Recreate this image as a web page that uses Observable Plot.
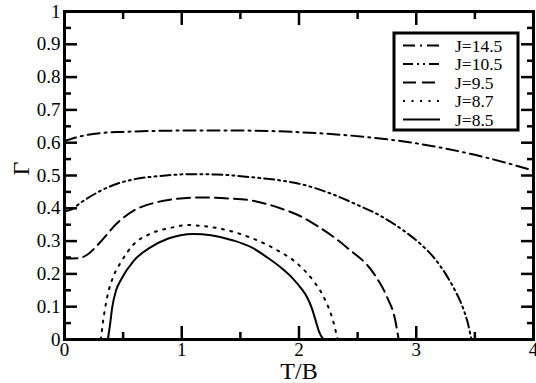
<!DOCTYPE html>
<html>
<head>
<meta charset="utf-8">
<script src="https://cdn.jsdelivr.net/npm/d3@7"></script>
<script src="https://cdn.jsdelivr.net/npm/@observablehq/plot@0.6"></script>
<style>
  html, body { margin: 0; padding: 0; background: #fff; }
  #wrap { position: relative; width: 536px; height: 383px; }
</style>
</head>
<body>
<div id="wrap"></div>
<script>
// ---- data ----
const seriesNames = ["J=14.5", "J=10.5", "J=9.5", "J=8.7", "J=8.5"];

const t145 = [0, 0.1, 0.2, 0.3, 0.5, 0.8, 1.0, 1.5, 2.0, 2.4, 3.0, 3.5, 4.0];
const g145 = [0.605, 0.616, 0.624, 0.629, 0.633, 0.636, 0.637, 0.637, 0.632, 0.623, 0.598, 0.563, 0.515];

const t105 = [0, 0.05, 0.15, 0.3, 0.45, 0.6, 0.8, 1.07, 1.3, 1.59, 1.84, 2.0, 2.27, 2.5, 2.69, 2.9, 3.04, 3.15, 3.25, 3.33, 3.4, 3.44, 3.47];
const g105 = [0.39, 0.395, 0.42, 0.452, 0.475, 0.489, 0.498, 0.504, 0.503, 0.495, 0.485, 0.475, 0.445, 0.41, 0.378, 0.33, 0.29, 0.25, 0.2, 0.15, 0.095, 0.05, 0];

const t95 = [0, 0.12, 0.2, 0.3, 0.45, 0.59, 0.75, 0.9, 1.16, 1.4, 1.59, 1.84, 2.0, 2.12, 2.41, 2.64, 2.75, 2.82, 2.85];
const g95 = [0.247, 0.248, 0.26, 0.295, 0.355, 0.393, 0.415, 0.426, 0.433, 0.43, 0.424, 0.4, 0.378, 0.354, 0.28, 0.2, 0.13, 0.06, 0];

const t87 = [0.31, 0.33, 0.364, 0.42, 0.48, 0.59, 0.73, 0.9, 1.05, 1.15, 1.3, 1.59, 1.8, 1.99, 2.12, 2.21, 2.29, 2.33];
const g87 = [0, 0.058, 0.129, 0.195, 0.235, 0.29, 0.322, 0.34, 0.349, 0.347, 0.34, 0.31, 0.275, 0.23, 0.18, 0.13, 0.058, 0];

const t85 = [0.37, 0.39, 0.407, 0.44, 0.478, 0.59, 0.73, 0.88, 1.1, 1.25, 1.44, 1.6, 1.73, 1.85, 1.95, 2.02, 2.07, 2.11, 2.14, 2.17, 2.2, 2.22];
const g85 = [0, 0.05, 0.098, 0.15, 0.18, 0.24, 0.28, 0.307, 0.322, 0.318, 0.302, 0.28, 0.25, 0.218, 0.185, 0.155, 0.128, 0.095, 0.06, 0.025, 0.005, 0];

const xTickLabels = [0, 1, 2, 3, 4];
const xMinorTicks = [0.5, 1.5, 2.5, 3.5];
const yTickLabels = [0, 0.1, 0.2, 0.3, 0.4, 0.5, 0.6, 0.7, 0.8, 0.9, 1];
const yMinorTicks = [0.05, 0.15, 0.25, 0.35, 0.45, 0.55, 0.65, 0.75, 0.85, 0.95];

// ---- build table ----
const seriesT = [t145, t105, t95, t87, t85];
const seriesG = [g145, g105, g95, g87, g85];
const rows = [];
seriesNames.forEach((name, i) => {
  seriesT[i].forEach((t, j) => rows.push({series: name, T: t, G: seriesG[i][j]}));
});

// ---- styles ----
const dash = {
  "J=14.5": "12,5,2,5",
  "J=10.5": "10,4,2,4,2,4",
  "J=9.5": "13,6",
  "J=8.7": "2,6.5",
  "J=8.5": null
};

const serif = "Liberation Serif, Times New Roman, DejaVu Serif, serif";
const tickW = 2.5;

const lineMarks = seriesNames.map(name =>
  Plot.line(rows.filter(d => d.series === name), {
    x: "T", y: "G", stroke: "black", strokeWidth: 2,
    strokeDasharray: dash[name] ?? undefined,
    curve: "monotone-x"
  })
);

const chart = Plot.plot({
  width: 536,
  height: 383,
  marginLeft: 64,
  marginRight: 3,
  marginTop: 11,
  marginBottom: 44,
  x: {domain: [0, 4]},
  y: {domain: [0, 1]},
  style: {fontFamily: serif, fontSize: "19px", color: "black", background: "white", overflow: "visible"},
  marks: [
    ...lineMarks,
    // major ticks (inward), all four sides
    Plot.axisX(xTickLabels, {anchor: "bottom", tickSize: -13, strokeWidth: tickW, fill: "none", label: null}),
    Plot.axisX(xTickLabels, {anchor: "top", tickSize: -13, strokeWidth: tickW, fill: "none", label: null}),
    Plot.axisY(yTickLabels, {anchor: "left", tickSize: -13, strokeWidth: tickW, fill: "none", label: null}),
    Plot.axisY(yTickLabels, {anchor: "right", tickSize: -13, strokeWidth: tickW, fill: "none", label: null}),
    // minor ticks
    Plot.axisX(xMinorTicks, {anchor: "bottom", tickSize: -7, strokeWidth: tickW, fill: "none", label: null}),
    Plot.axisX(xMinorTicks, {anchor: "top", tickSize: -7, strokeWidth: tickW, fill: "none", label: null}),
    Plot.axisY(yMinorTicks, {anchor: "left", tickSize: -7, strokeWidth: tickW, fill: "none", label: null}),
    Plot.axisY(yMinorTicks, {anchor: "right", tickSize: -7, strokeWidth: tickW, fill: "none", label: null}),
    // tick labels
    Plot.axisX(xTickLabels, {anchor: "bottom", tickSize: 0, tickPadding: 3, label: null, tickFormat: d => String(d), fontSize: 19}),
    Plot.axisY(yTickLabels, {anchor: "left", tickSize: 0, tickPadding: 4, label: null, tickFormat: d => String(d), fontSize: 19}),
    // axis titles
    Plot.text(["T/B"], {frameAnchor: "bottom", dy: 32, fontSize: 24, lineAnchor: "middle"}),
    Plot.text(["Γ"], {frameAnchor: "left", dx: -43, rotate: -90, fontSize: 24, lineAnchor: "middle"}),
    Plot.frame({stroke: "black", strokeWidth: 3})
  ]
});

const wrap = document.getElementById("wrap");
wrap.appendChild(chart);

// ---- legend overlay ----
const lg = d3.select(wrap).append("svg")
  .attr("width", 536).attr("height", 383)
  .style("position", "absolute").style("left", "0px").style("top", "0px")
  .style("pointer-events", "none");

const box = {x: 394, y: 33, w: 124, h: 97};
lg.append("rect").attr("x", box.x).attr("y", box.y).attr("width", box.w).attr("height", box.h)
  .attr("fill", "white").attr("stroke", "black").attr("stroke-width", 3);

const rowY = i => box.y + 12.5 + i * 18.5;
seriesNames.forEach((name, i) => {
  lg.append("line")
    .attr("x1", 403).attr("x2", 440).attr("y1", rowY(i)).attr("y2", rowY(i))
    .attr("stroke", "black").attr("stroke-width", 2)
    .attr("stroke-dasharray", dash[name]);
  lg.append("text")
    .attr("x", 455).attr("y", rowY(i)).attr("dy", "0.35em")
    .attr("font-family", serif).attr("font-size", 17.5)
    .text(name);
});
</script>
</body>
</html>
